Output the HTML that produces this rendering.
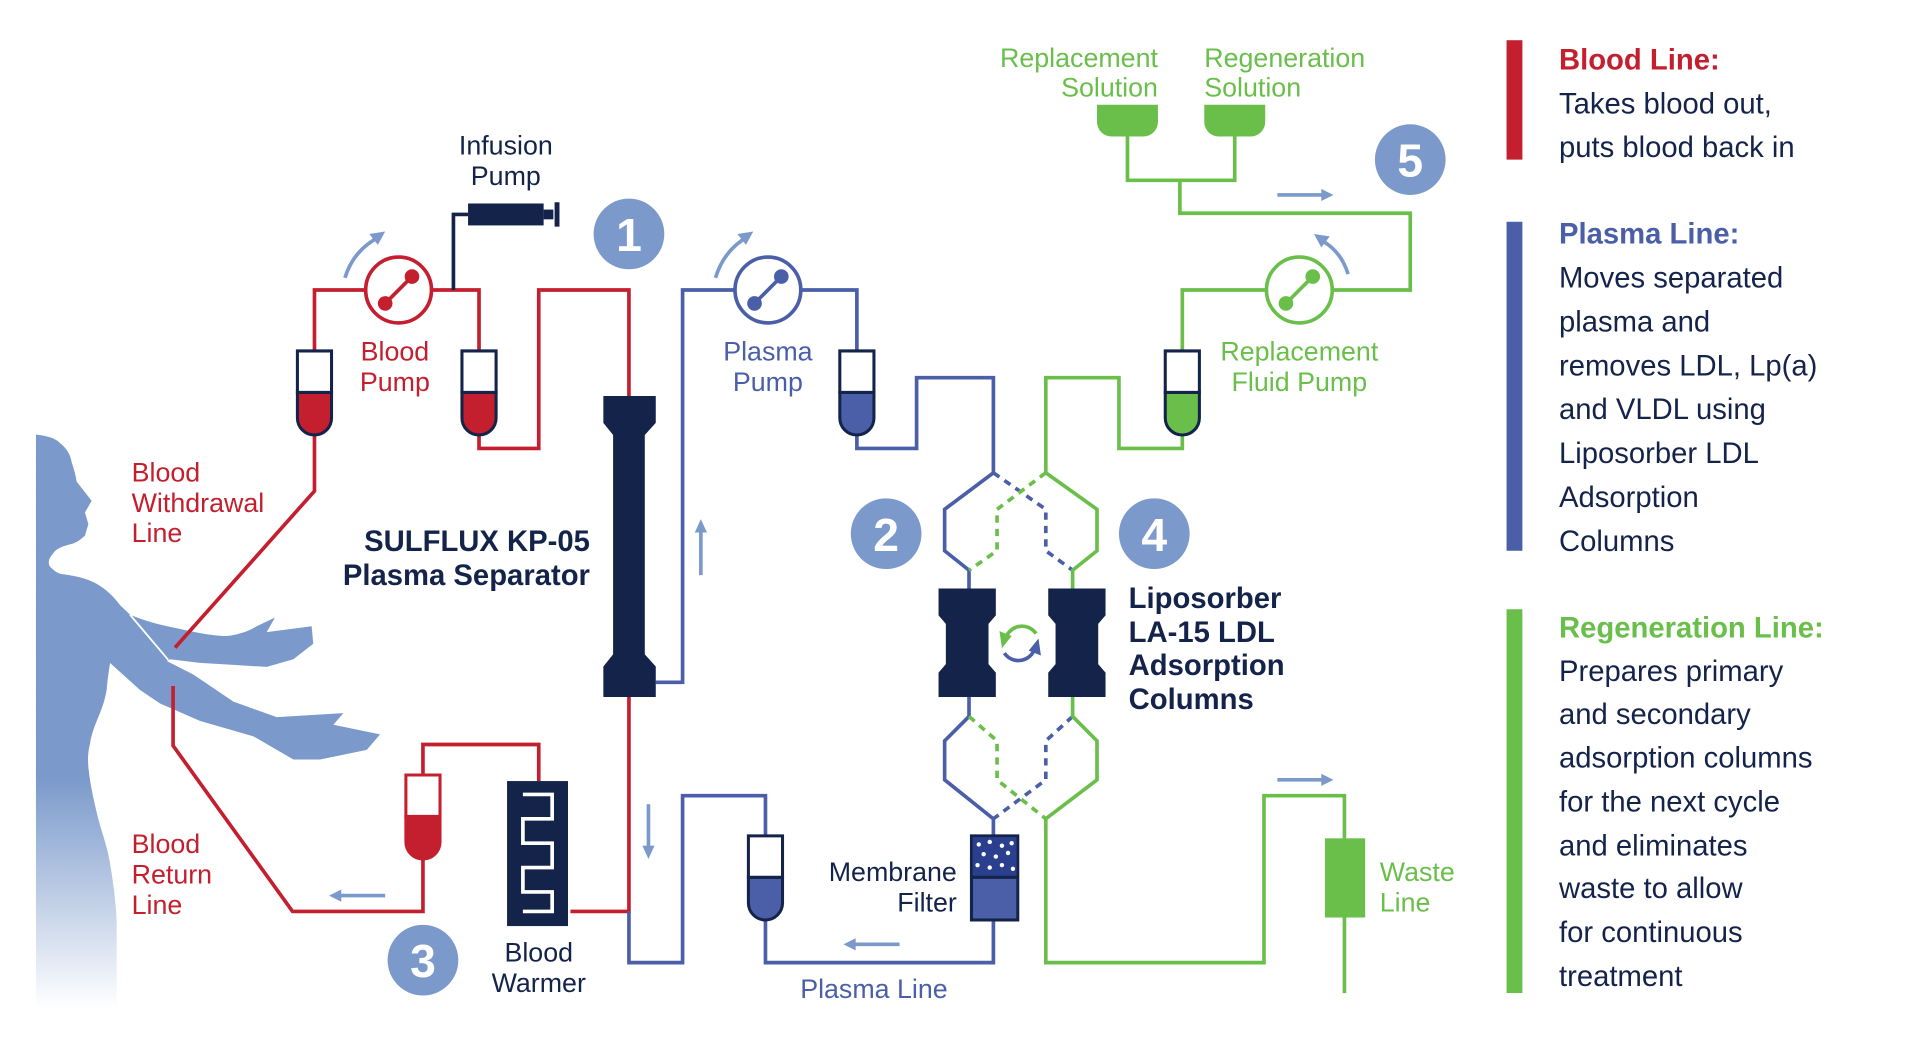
<!DOCTYPE html>
<html><head><meta charset="utf-8"><style>
html,body{margin:0;padding:0;background:#fff;}
svg{display:block;}
text{font-family:"Liberation Sans",sans-serif;}
</style></head><body>
<svg width="1910" height="1054" viewBox="0 0 1567 865" preserveAspectRatio="none" xmlns="http://www.w3.org/2000/svg">
<defs>
<linearGradient id="hg" gradientUnits="userSpaceOnUse" x1="0" y1="640" x2="0" y2="828">
<stop offset="0" stop-color="#7b9acb"/><stop offset="1" stop-color="#ffffff"/></linearGradient>
</defs>
<rect width="1567" height="865" fill="#fff"/>
<!-- human -->
<path d="M29.5,356.6 C40,358 46,360 49.2,363.6 C55,368 58,374 58.8,379.4 C61,386 62,390 62.9,395.3 L75.2,411.1 L69.7,420.6 L72.5,430.1 L69.7,439.6 C66,443 63,445 60.2,446 C52,448 46,450 43.8,453.9 C40,458 39,462 41,465 C45,469 48,471 52,471.3 C65,473 75,476 82,480.8 C90,486 95,492 98.5,496.6 L106.7,504.5 C120,510 132,513 145,515.6 C160,519 175,522 186,522 C196,521 204,518 210.6,514 L225.6,506.8 L218.8,518.8 L255.7,514 L257,528.3 L240.7,541 L218.8,547.3 L191.5,545.7 L164,544 L139.5,541 L136.8,542.5 L158.6,553.6 L191.5,575.8 L227,588.5 L281.7,585.3 L273.5,594.8 L311.8,602.7 L300.9,615.4 L262.6,623.3 L240.7,623.3 L207.9,604.3 L164,591.6 L131.3,577.4 L114.9,566.3 L90.3,544.1 C89,552 88,560 87.5,566.3 C86,575 84,580 82,585.3 C78,595 75,602 73.8,610.6 C72,618 72,623 72.5,629.6 C74,645 78,662 82,677.1 C86,690 89,700 90.3,708.8 C93,725 95,740 95.7,756.3 L95.7,830 L29.5,830 Z" fill="url(#hg)"/>
<line x1="106.7" y1="504.5" x2="138" y2="541.5" stroke="#fff" stroke-width="1.5"/>
<g fill="none" stroke-width="3">
<!-- red -->
<g stroke="#c41f2e">
<polyline points="143.6,531.5 258,403 258,357"/>
<polyline points="258,288 258,238 299,238"/>
<polyline points="355,238 393,238 393,288"/>
<polyline points="393,357 393,368 442,368 442,238 516,238 516,325"/>
<polyline points="516,572 516,748 468,748"/>
<polyline points="442,641 442,611 347,611 347,636"/>
<polyline points="347,705 347,748 240,748 142,612 142,563"/>
<circle cx="327" cy="238" r="27"/>
</g>
<polyline points="372,238 372,176 384,176" stroke="#14234a"/>
<!-- blue -->
<g stroke="#4a5fa8">
<polyline points="538,560 560,560 560,238 602,238"/>
<polyline points="658,238 703,238 703,288"/>
<polyline points="703,357 703,368 752,368 752,310 815,310 815,388 775,418 775,452 795,468 795,483"/>
<polyline points="795,572 795,588 775,608 775,640 815,672 815,686"/>
<polyline points="815,755 815,790 628,790 628,755"/>
<polyline points="628,686 628,653 560,653 560,790 516,790 516,748"/>
<circle cx="630" cy="238" r="27"/>
<g stroke-dasharray="6,5"><polyline points="815,388 858,418 858,452 880,468"/><polyline points="880,588 858,608 858,640 815,672"/></g>
</g>
<!-- green -->
<g stroke="#6abf4b">
<polyline points="925,112 925,148 1013,148 1013,112"/>
<polyline points="968,148 968,175 1157,175 1157,238 1094,238"/>
<polyline points="1038,238 970,238 970,288"/>
<polyline points="970,357 970,368 918,368 918,310 858,310 858,388 900,418 900,452 880,468 880,483"/>
<polyline points="880,572 880,588 900,608 900,640 858,672 858,790 1037,790 1037,653 1103,653 1103,688"/>
<polyline points="1103,753 1103,815"/>
<circle cx="1066" cy="238" r="27"/>
<g stroke-dasharray="6,5"><polyline points="858,388 818,418 818,452 795,468"/><polyline points="795,588 818,608 818,640 858,672"/></g>
</g>
<!-- light blue arrows -->
<g stroke="#7b9acb">
<path d="M283,228 Q290,205 312,194"/>
<path d="M587,228 Q594,205 614,194"/>
<path d="M1106,225 Q1100,205 1082,196"/>
<line x1="1048" y1="160" x2="1088" y2="160"/>
<line x1="1048" y1="640" x2="1088" y2="640"/>
<line x1="276" y1="735" x2="316" y2="735"/>
<line x1="698" y1="775" x2="738" y2="775"/>
<line x1="575" y1="432" x2="575" y2="472"/>
<line x1="532" y1="660" x2="532" y2="700"/>
</g>
</g>
<g fill="#7b9acb">
<polygon points="316,190 303,192 310,201"/><polygon points="618,190 605,192 612,201"/><polygon points="1078,192 1084,203 1091,194"/>
<polygon points="1094,160 1084,155 1084,165"/><polygon points="1094,640 1084,635 1084,645"/>
<polygon points="270,735 280,730 280,740"/><polygon points="692,775 702,770 702,780"/>
<polygon points="575,426 570,437 580,437"/><polygon points="532,705 527,694 537,694"/>
</g>
<!-- pump rotors -->
<g stroke-width="3"><line x1="316" y1="249" x2="338" y2="227" stroke="#c41f2e"/><line x1="619" y1="249" x2="641" y2="227" stroke="#4a5fa8"/><line x1="1055" y1="249" x2="1077" y2="227" stroke="#6abf4b"/></g>
<g><circle cx="316" cy="249" r="6" fill="#c41f2e"/><circle cx="338" cy="227" r="6" fill="#c41f2e"/><circle cx="619" cy="249" r="6" fill="#4a5fa8"/><circle cx="641" cy="227" r="6" fill="#4a5fa8"/><circle cx="1055" cy="249" r="6" fill="#6abf4b"/><circle cx="1077" cy="227" r="6" fill="#6abf4b"/></g>
<!-- tubes -->
<g stroke="#14234a" stroke-width="2.5">
<path d="M244,322 H272 V343 A14,14 0 0 1 244,343 Z" fill="#c41f2e"/><path d="M244,288 H272 V322 H244 Z" fill="#fff"/>
<path d="M379,322 H407 V343 A14,14 0 0 1 379,343 Z" fill="#c41f2e"/><path d="M379,288 H407 V322 H379 Z" fill="#fff"/>
<path d="M689,322 H717 V343 A14,14 0 0 1 689,343 Z" fill="#4a5fa8"/><path d="M689,288 H717 V322 H689 Z" fill="#fff"/>
<path d="M956,322 H984 V343 A14,14 0 0 1 956,343 Z" fill="#6abf4b"/><path d="M956,288 H984 V322 H956 Z" fill="#fff"/>
<path d="M614,720 H642 V741 A14,14 0 0 1 614,741 Z" fill="#4a5fa8"/><path d="M614,686 H642 V720 H614 Z" fill="#fff"/>
</g>
<path d="M333,670 H361 V691 A14,14 0 0 1 333,691 Z" fill="#c41f2e" stroke="#c41f2e" stroke-width="2.5"/><path d="M333,636 H361 V670 H333 Z" fill="#fff" stroke="#c41f2e" stroke-width="2.5"/>
<!-- syringe -->
<rect x="384" y="167" width="62" height="18" fill="#14234a"/><rect x="446" y="172" width="8" height="8" fill="#14234a"/><rect x="455" y="166" width="4" height="20" fill="#14234a"/>
<!-- separator -->
<path d="M495,325 H538 V347 L529,357 V537 L538,547 V572 H495 V547 L503,537 V357 L495,347 Z" fill="#14234a"/>
<!-- columns -->
<path d="M770,483 H817 V505 L811,512 V545 L817,552 V572 H770 V552 L776,545 V512 L770,505 Z" fill="#14234a"/>
<path d="M860,483 H907 V505 L901,512 V545 L907,552 V572 H860 V552 L866,545 V512 L860,505 Z" fill="#14234a"/>
<g fill="none" stroke-width="3"><path d="M850,520 A14,14 0 0 0 825,524" stroke="#6abf4b"/><path d="M824,536 A14,14 0 0 0 849,532" stroke="#4a5fa8"/></g>
<polygon points="820,518 830,522 822,532" fill="#6abf4b"/><polygon points="854,538 844,534 852,524" fill="#4a5fa8"/>
<!-- blood warmer -->
<rect x="416" y="641" width="50" height="119" fill="#14234a"/>
<polyline points="429,652 453,652 453,672 429,672 429,692 453,692 453,712 429,712 429,732 453,732 453,748 429,748" fill="none" stroke="#fff" stroke-width="3"/>
<!-- membrane filter -->
<rect x="797" y="686" width="38" height="69" fill="#4a5fa8" stroke="#14234a" stroke-width="2.5"/>
<rect x="798" y="687" width="36" height="33" fill="#2b3f8f"/>
<line x1="797" y1="720" x2="835" y2="720" stroke="#14234a" stroke-width="2.5"/>
<g fill="#fff"><circle cx="803" cy="693" r="1.8"/><circle cx="812" cy="691" r="1.8"/><circle cx="822" cy="694" r="1.8"/><circle cx="830" cy="692" r="1.8"/><circle cx="807" cy="701" r="1.8"/><circle cx="817" cy="703" r="1.8"/><circle cx="827" cy="700" r="1.8"/><circle cx="802" cy="710" r="1.8"/><circle cx="812" cy="712" r="1.8"/><circle cx="822" cy="710" r="1.8"/><circle cx="831" cy="713" r="1.8"/></g>
<!-- solution containers / waste -->
<path d="M900,86 H950 V100 A12,12 0 0 1 938,112 H912 A12,12 0 0 1 900,100 Z" fill="#6abf4b"/>
<path d="M988,86 H1038 V100 A12,12 0 0 1 1026,112 H1000 A12,12 0 0 1 988,100 Z" fill="#6abf4b"/>
<rect x="1087" y="688" width="33" height="65" fill="#6abf4b"/>
<!-- number circles -->
<g fill="#7b9acb"><circle cx="516" cy="192" r="29"/><circle cx="727" cy="438" r="29"/><circle cx="347" cy="788" r="29"/><circle cx="947" cy="438" r="29"/><circle cx="1157" cy="131" r="29"/></g>
<g fill="#fff" font-size="38" font-weight="bold" text-anchor="middle">
<text x="516" y="206">1</text><text x="727" y="452">2</text><text x="347" y="802">3</text><text x="947" y="452">4</text><text x="1157" y="145">5</text></g>
<!-- labels -->
<g font-size="22">
<g fill="#c41f2e"><text x="108" y="395">Blood</text><text x="108" y="420">Withdrawal</text><text x="108" y="445">Line</text>
<text x="108" y="700">Blood</text><text x="108" y="725">Return</text><text x="108" y="750">Line</text>
<text x="324" y="296" text-anchor="middle">Blood</text><text x="324" y="321" text-anchor="middle">Pump</text></g>
<g fill="#14234a" text-anchor="middle"><text x="415" y="127">Infusion</text><text x="415" y="152">Pump</text>
<text x="442" y="789">Blood</text><text x="442" y="814">Warmer</text></g>
<g fill="#14234a" text-anchor="end"><text x="785" y="723">Membrane</text><text x="785" y="748">Filter</text></g>
<g fill="#4a5fa8" text-anchor="middle"><text x="630" y="296">Plasma</text><text x="630" y="321">Pump</text><text x="717" y="819">Plasma Line</text></g>
<g fill="#6abf4b"><text x="950" y="55" text-anchor="end">Replacement</text><text x="950" y="79" text-anchor="end">Solution</text>
<text x="988" y="55">Regeneration</text><text x="988" y="79">Solution</text>
<text x="1066" y="296" text-anchor="middle">Replacement</text><text x="1066" y="321" text-anchor="middle">Fluid Pump</text>
<text x="1132" y="723">Waste</text><text x="1132" y="748">Line</text></g>
</g>
<g font-size="24" font-weight="bold" fill="#14234a">
<text x="484" y="452" text-anchor="end">SULFLUX KP-05</text><text x="484" y="480" text-anchor="end">Plasma Separator</text>
<text x="926" y="499">Liposorber</text><text x="926" y="527">LA-15 LDL</text><text x="926" y="554">Adsorption</text><text x="926" y="582">Columns</text></g>
<!-- legend -->
<rect x="1236" y="33" width="13" height="98" fill="#c41f2e"/>
<rect x="1236" y="182" width="13" height="270" fill="#4a5fa8"/>
<rect x="1236" y="500" width="13" height="315" fill="#6abf4b"/>
<g font-size="24">
<text x="1279" y="57" fill="#c41f2e" font-weight="bold">Blood Line:</text>
<g fill="#14234a"><text x="1279" y="93">Takes blood out,</text><text x="1279" y="129">puts blood back in</text></g>
<text x="1279" y="200" fill="#4a5fa8" font-weight="bold">Plasma Line:</text>
<g fill="#14234a"><text x="1279" y="236">Moves separated</text><text x="1279" y="272">plasma and</text><text x="1279" y="308">removes LDL, Lp(a)</text><text x="1279" y="344">and VLDL using</text><text x="1279" y="380">Liposorber LDL</text><text x="1279" y="416">Adsorption</text><text x="1279" y="452">Columns</text></g>
<text x="1279" y="523" fill="#6abf4b" font-weight="bold">Regeneration Line:</text>
<g fill="#14234a"><text x="1279" y="559">Prepares primary</text><text x="1279" y="594">and secondary</text><text x="1279" y="630">adsorption columns</text><text x="1279" y="666">for the next cycle</text><text x="1279" y="702">and eliminates</text><text x="1279" y="737">waste to allow</text><text x="1279" y="773">for continuous</text><text x="1279" y="809">treatment</text></g>
</g>
</svg>
</body></html>
